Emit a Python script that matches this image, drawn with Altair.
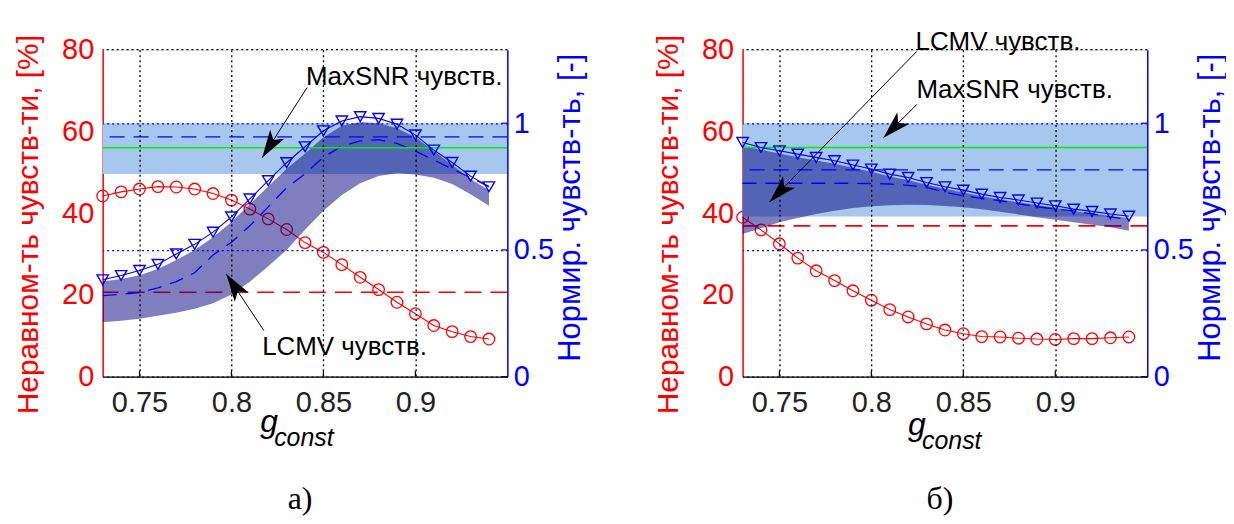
import math
import altair as alt
import pandas as pd

# ---------------- data ----------------
G = [0.73, 0.74, 0.75, 0.76, 0.77, 0.78, 0.79, 0.80, 0.81, 0.82, 0.83,
     0.84, 0.85, 0.86, 0.87, 0.88, 0.89, 0.90, 0.91, 0.92, 0.93, 0.94]

# panel a)
A_RED = [44.2, 45.2, 45.9, 46.5, 46.4, 45.9, 44.8, 43.2, 41.0, 38.6, 36.0,
         32.8, 30.4, 27.4, 24.3, 21.3, 18.2, 15.4, 12.5, 11.0, 9.8, 9.2]
A_SENS = [0.382, 0.399, 0.419, 0.443, 0.484, 0.522, 0.570, 0.630, 0.701, 0.773, 0.844,
          0.907, 0.970, 1.009, 1.026, 1.019, 0.996, 0.954, 0.894, 0.845, 0.791, 0.749]
A_LCMV_LO = [0.215, 0.220, 0.228, 0.240, 0.252, 0.268, 0.290, 0.324, 0.374, 0.436, 0.500,
             0.580, 0.655, 0.717, 0.763, 0.792, 0.802, 0.798, 0.785, 0.760, 0.720, 0.674]
A_LCMV_HI = [0.375, 0.385, 0.400, 0.425, 0.460, 0.500, 0.550, 0.610, 0.680, 0.750, 0.820,
             0.880, 0.945, 0.990, 1.005, 1.000, 0.980, 0.945, 0.890, 0.835, 0.780, 0.735]
A_LCMV_MEAN = [0.320, 0.325, 0.332, 0.350, 0.375, 0.410, 0.480, 0.530, 0.595, 0.670, 0.745,
               0.800, 0.866, 0.910, 0.930, 0.935, 0.920, 0.890, 0.855, 0.820, 0.785, 0.750]
A_MAXSNR_BAND = [0.80, 1.00]
A_MAXSNR_MEAN = 0.946
A_GREEN = 0.903
A_RED_REF = 20.65
A_ANN_TEXT = ["MaxSNR чувств.", "LCMV чувств."]
A_ANN_TX = [0.8405, 0.8167]
A_ANN_TY = [1.184, 0.118]
A_ANN_X0 = [0.8411, 0.8176]
A_ANN_Y0 = [1.1405, 0.182]
A_ANN_X1 = [0.8167, 0.7972]
A_ANN_Y1 = [0.864, 0.405]

# panel б)
B_RED = [39.0, 35.9, 32.5, 29.0, 25.9, 23.5, 21.0, 18.7, 16.4, 14.6, 12.9,
         11.4, 10.5, 9.8, 9.7, 9.4, 9.2, 9.1, 9.3, 9.3, 9.5, 9.7]
B_SENS = [0.924, 0.904, 0.891, 0.878, 0.865, 0.852, 0.835, 0.819, 0.799, 0.786, 0.766,
          0.749, 0.736, 0.720, 0.707, 0.697, 0.685, 0.674, 0.661, 0.652, 0.642, 0.633]
B_LCMV_LO = [0.563, 0.585, 0.609, 0.626, 0.642, 0.655, 0.665, 0.672, 0.676, 0.678, 0.677,
             0.673, 0.668, 0.660, 0.651, 0.640, 0.629, 0.619, 0.609, 0.599, 0.589, 0.576]
B_LCMV_HI = [0.910, 0.895, 0.880, 0.866, 0.853, 0.840, 0.824, 0.808, 0.790, 0.775, 0.757,
             0.741, 0.727, 0.712, 0.699, 0.688, 0.677, 0.666, 0.653, 0.644, 0.634, 0.627]
B_LCMV_MEAN = [0.763, 0.763, 0.763, 0.763, 0.763, 0.763, 0.763, 0.762, 0.760, 0.755, 0.747,
               0.728, 0.713, 0.703, 0.694, 0.682, 0.670, 0.662, 0.654, 0.642, 0.630, 0.620]
B_MAXSNR_BAND = [0.632, 1.00]
B_MAXSNR_MEAN = 0.816
B_GREEN = 0.904
B_RED_REF = 36.9
B_ANN_TEXT = ["LCMV чувств.", "MaxSNR чувств."]
B_ANN_TX = [0.8240, 0.8245]
B_ANN_TY = [1.3215, 1.1327]
B_ANN_X0 = [0.8247, 0.8247]
B_ANN_Y0 = [1.2833, 1.0737]
B_ANN_X1 = [0.7447, 0.8066]
B_ANN_Y1 = [0.6895, 0.9427]

X_DOMAIN = [0.73, 0.95]
YL_DOMAIN = [0, 80]
YR_DOMAIN = [0, 1.29]
X_TICKS = [0.75, 0.8, 0.85, 0.9]
YL_TICKS = [0, 20, 40, 60, 80]
YR_TICKS = [0, 0.5, 1]

LEFT_TITLE = "Неравном-ть чувств-ти, [%]"
RIGHT_TITLE = "Нормир. чувств-ть, [-]"

# ---------------- style ----------------
W, H = 406, 328
FONT = "Liberation Sans"
SERIF = "Liberation Serif"
RED = "#ff0000"
BLUE = "#0000ff"
GREEN = "#00f000"
LIGHT = "#a6c8ee"
DARK = "#000080"
ARROW_PATH = "M0,0 L0.6,2 L0,1.5 L-0.6,2 Z"

XS = alt.Scale(domain=X_DOMAIN, nice=False, zero=False)
YLS = alt.Scale(domain=YL_DOMAIN, nice=False, zero=False)
YRS = alt.Scale(domain=YR_DOMAIN, nice=False, zero=False)

X_AXIS = alt.Axis(values=X_TICKS, labelExpr="'' + datum.value", title=None,
                  grid=True, gridColor="black", gridDash=[2, 3], gridWidth=1.3,
                  domainColor="black", domainWidth=1.5, ticks=False,
                  labelFontSize=29, labelColor="#222222", labelFont=FONT,
                  labelPadding=12, zindex=1)
LEFT_AXIS = alt.Axis(values=YL_TICKS, title=LEFT_TITLE, grid=False,
                     domainColor=RED, domainWidth=1.5, ticks=False,
                     labelFontSize=29, labelColor=RED, labelFont=FONT, labelPadding=9,
                     titleFontSize=30, titleColor=RED, titleFont=FONT,
                     titleFontWeight="normal", titlePadding=18, titleY=175)
RIGHT_AXIS = alt.Axis(orient="right", values=YR_TICKS, labelExpr="'' + datum.value",
                      title=RIGHT_TITLE, grid=True, gridColor=BLUE, gridDash=[2, 3],
                      gridWidth=1.3, domainColor=BLUE, domainWidth=1.5, ticks=False,
                      labelFontSize=29, labelColor=BLUE, labelFont=FONT, labelPadding=6,
                      titleFontSize=31, titleColor=BLUE, titleFont=FONT,
                      titleFontWeight="normal", titlePadding=2, titleAngle=270,
                      titleBaseline="top", titleY=158, zindex=1)


def EX(field):
    return alt.X(field, scale=XS, axis=X_AXIS, title=None)


def EYL(field):
    return alt.Y(field, scale=YLS, axis=LEFT_AXIS, title=LEFT_TITLE)


def EYR(field):
    return alt.Y(field, scale=YRS, axis=RIGHT_AXIS, title=RIGHT_TITLE)


def head_angle(x0, y0, x1, y1):
    sx = W / (X_DOMAIN[1] - X_DOMAIN[0])
    sy = H / (YR_DOMAIN[1] - YR_DOMAIN[0])
    dx = (x1 - x0) * sx
    dy = -(y1 - y0) * sy
    return math.degrees(math.atan2(dx, -dy)) % 360


def panel(red, sens, lo, hi, mean, band, snr_mean, green, red_ref,
          ann_text, ann_tx, ann_ty, ann_x0, ann_y0, ann_x1, ann_y1,
          letter, g_dx, g_dy):
    df = pd.DataFrame({"g": G, "red": red, "sens": sens, "lo": lo, "hi": hi, "mean": mean})
    base = alt.Chart(df)

    # ---- left (red) layer ----
    red_line = base.mark_line(color=RED, strokeWidth=1.1).encode(x=EX("g:Q"), y=EYL("red:Q"))
    red_pts = base.mark_point(shape="circle", filled=False, color=RED, size=135,
                              strokeWidth=1.3, opacity=1).encode(x=EX("g:Q"), y=EYL("red:Q"))
    red_ref_rule = alt.Chart(pd.DataFrame({"v": [red_ref]})).mark_rule(
        color=RED, strokeDash=[17, 9], strokeWidth=1.6).encode(y=EYL("v:Q"))
    left = alt.layer(red_line, red_pts, red_ref_rule)

    # ---- right (blue) layer ----
    band_df = pd.DataFrame({"x0": [X_DOMAIN[0]], "x1": [X_DOMAIN[1]],
                            "b0": [band[0]], "b1": [band[1]]})
    light = alt.Chart(band_df).mark_rect(color=LIGHT).encode(
        x=EX("x0:Q"), x2="x1:Q", y=EYR("b0:Q"), y2="b1:Q")
    dark = base.mark_area(color=DARK, opacity=0.5).encode(x=EX("g:Q"), y=EYR("lo:Q"), y2="hi:Q")
    snr_rule = alt.Chart(pd.DataFrame({"v": [snr_mean]})).mark_rule(
        color=BLUE, strokeDash=[15, 9], strokeWidth=1.4).encode(y=EYR("v:Q"))
    mean_line = base.mark_line(color=BLUE, strokeDash=[14, 9], strokeWidth=1.3).encode(
        x=EX("g:Q"), y=EYR("mean:Q"))
    green_rule = alt.Chart(pd.DataFrame({"v": [green]})).mark_rule(
        color=GREEN, strokeWidth=1.7).encode(y=EYR("v:Q"))
    sens_line = base.mark_line(color=BLUE, strokeWidth=1.1).encode(x=EX("g:Q"), y=EYR("sens:Q"))
    sens_pts = base.mark_point(shape="triangle-down", filled=False, color=BLUE, size=130,
                               strokeWidth=1.4, opacity=1).encode(x=EX("g:Q"), y=EYR("sens:Q"))

    one = pd.DataFrame({"k": [0]})
    top_frame = alt.Chart(one).mark_rule(color="black", strokeDash=[2, 3], strokeWidth=1.3).encode(
        y=alt.value(0))
    xt_df = pd.DataFrame({"g": X_TICKS})
    x_ticks = alt.Chart(xt_df).mark_rule(color="black", strokeWidth=1.2).encode(
        x=EX("g:Q"), y=alt.value(H), y2=alt.value(H - 6))
    yt_df = pd.DataFrame({"v": YR_TICKS})
    y_ticks = alt.Chart(yt_df).mark_rule(color=BLUE, strokeWidth=1.2).encode(
        y=EYR("v:Q"), x=alt.value(W), x2=alt.value(W - 6))

    ann = pd.DataFrame({"t": ann_text, "tx": ann_tx, "ty": ann_ty,
                        "x0": ann_x0, "y0": ann_y0, "x1": ann_x1, "y1": ann_y1})
    ann["ang"] = [head_angle(a, b, c, d) for a, b, c, d in
                  zip(ann_x0, ann_y0, ann_x1, ann_y1)]
    arr_line = alt.Chart(ann).mark_rule(color="black", strokeWidth=1).encode(
        x=EX("x0:Q"), x2="x1:Q", y=EYR("y0:Q"), y2="y1:Q")
    arr_head = alt.Chart(ann).mark_point(shape=ARROW_PATH, filled=True, color="black",
                                         size=780, opacity=1).encode(
        x=EX("x1:Q"), y=EYR("y1:Q"), angle=alt.Angle("ang:Q", scale=None))
    arr_text = alt.Chart(ann).mark_text(font=FONT, fontSize=26, align="left",
                                        baseline="middle", color="black").encode(
        x=EX("tx:Q"), y=EYR("ty:Q"), text="t:N")

    g_txt = alt.Chart(pd.DataFrame({"t": ["g"]})).mark_text(
        font=FONT, fontSize=32, fontStyle="italic", align="left", baseline="alphabetic",
        color="black").encode(text="t:N", x=alt.value(g_dx), y=alt.value(g_dy))
    c_txt = alt.Chart(pd.DataFrame({"t": ["const"]})).mark_text(
        font=FONT, fontSize=25, fontStyle="italic", align="left", baseline="alphabetic",
        color="black").encode(text="t:N", x=alt.value(g_dx + 14), y=alt.value(g_dy + 14))
    l_txt = alt.Chart(pd.DataFrame({"t": [letter]})).mark_text(
        font=SERIF, fontSize=32, align="center", baseline="alphabetic",
        color="black").encode(text="t:N", x=alt.value(198), y=alt.value(461))

    right = alt.layer(light, dark, snr_rule, mean_line, green_rule, sens_line, sens_pts,
                      top_frame, x_ticks, y_ticks, arr_line, arr_head, arr_text,
                      g_txt, c_txt, l_txt)

    return alt.layer(left, right).resolve_scale(y="independent").properties(width=W, height=H)


pa = panel(A_RED, A_SENS, A_LCMV_LO, A_LCMV_HI, A_LCMV_MEAN, A_MAXSNR_BAND, A_MAXSNR_MEAN,
           A_GREEN, A_RED_REF, A_ANN_TEXT, A_ANN_TX, A_ANN_TY, A_ANN_X0, A_ANN_Y0,
           A_ANN_X1, A_ANN_Y1, "а)", 158, 384)
pb = panel(B_RED, B_SENS, B_LCMV_LO, B_LCMV_HI, B_LCMV_MEAN, B_MAXSNR_BAND, B_MAXSNR_MEAN,
           B_GREEN, B_RED_REF, B_ANN_TEXT, B_ANN_TX, B_ANN_TY, B_ANN_X0, B_ANN_Y0,
           B_ANN_X1, B_ANN_Y1, "б)", 166, 387)

chart = alt.hconcat(pa, pb, spacing=67).properties(
    padding={"left": 5, "top": 19, "right": 0, "bottom": 0}
).configure_view(stroke=None).configure(background="white")

chart.save("out.html", embed_options={"renderer": "svg", "actions": False})
